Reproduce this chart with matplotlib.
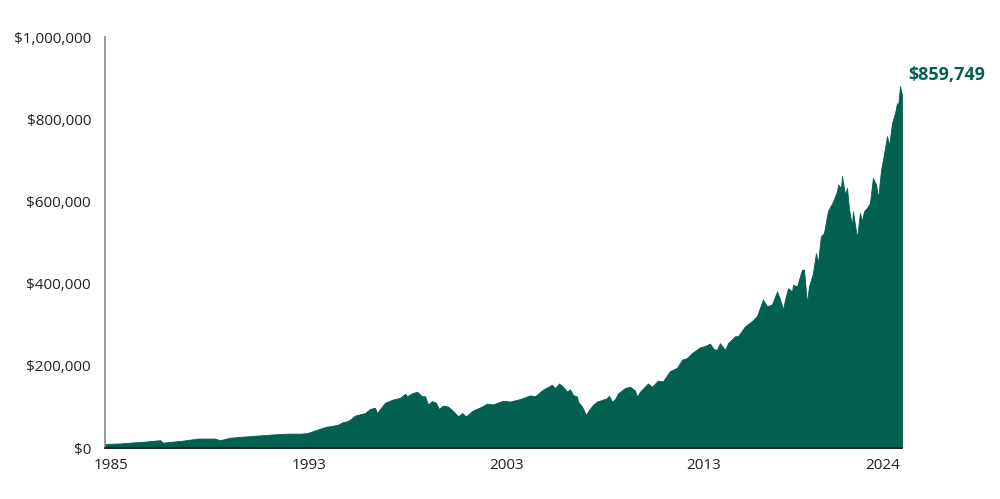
import matplotlib
matplotlib.use("Agg")
import matplotlib.pyplot as plt
from matplotlib.ticker import FuncFormatter

plt.rcParams['font.family'] = ['Open Sans', 'DejaVu Sans']

# Growth of $10,000 (values in $ thousands), dates as decimal years
dates = [
    1985.00, 1985.75, 1986.25, 1987.11, 1987.76, 1987.91, 1988.91, 1989.67,
    1990.52, 1990.77, 1991.27, 1992.28, 1993.43, 1994.13, 1994.79, 1995.14,
    1995.44, 1995.79, 1996.14, 1996.66, 1996.94, 1997.15, 1997.30, 1997.55,
    1998.05, 1998.30, 1998.55, 1998.65, 1999.05, 1999.45, 1999.81, 2000.06,
    2000.16, 2000.41, 2000.66, 2000.91, 2001.06, 2001.21, 2001.41, 2001.61,
    2001.76, 2001.96, 2002.21, 2002.47, 2002.72, 2002.92, 2003.12, 2003.42,
    2003.92, 2004.17, 2004.47, 2004.97, 2005.33, 2005.83, 2006.33, 2006.58,
    2006.98, 2007.43, 2007.58, 2007.79, 2007.99, 2008.19, 2008.34, 2008.49,
    2008.69, 2008.74, 2008.94, 2009.14, 2009.24, 2009.49, 2009.69, 2009.94,
    2010.19, 2010.29, 2010.45, 2010.60, 2010.75, 2011.10, 2011.35, 2011.60,
    2011.70, 2011.85, 2012.25, 2012.45, 2012.75, 2013.00, 2013.35, 2013.71,
    2013.96, 2014.21, 2014.46, 2014.86, 2015.11, 2015.36, 2015.56, 2015.71,
    2015.86, 2016.12, 2016.27, 2016.62, 2016.77, 2017.12, 2017.47, 2017.72,
    2018.02, 2018.22, 2018.47, 2018.73, 2018.88, 2019.03, 2019.13, 2019.28,
    2019.48, 2019.53, 2019.73, 2019.98, 2020.08, 2020.23, 2020.33, 2020.53,
    2020.68, 2020.78, 2020.93, 2021.08, 2021.28, 2021.54, 2021.74, 2021.79,
    2021.94, 2021.99, 2022.14, 2022.24, 2022.34, 2022.49, 2022.54, 2022.74,
    2022.89, 2022.99, 2023.09, 2023.24, 2023.39, 2023.54, 2023.70, 2023.80,
    2023.95, 2024.05, 2024.25, 2024.35, 2024.50, 2024.65, 2024.75, 2024.80,
    2024.90, 2025.00,
]
values_k = [
    10, 11, 13, 16, 19, 13, 18, 23,
    23, 19, 25, 29, 33, 35, 35, 36,
    41, 47, 52, 56, 63, 65, 69, 79,
    85, 95, 98, 85, 110, 118, 122, 132,
    126, 133, 137, 126, 126, 106, 114, 110,
    95, 103, 101, 90, 77, 85, 77, 90,
    101, 108, 106, 115, 113, 119, 128, 126,
    142, 154, 146, 157, 149, 137, 143, 129,
    125, 113, 101, 80, 89, 105, 113, 117,
    121, 127, 113, 119, 133, 146, 149, 140,
    125, 137, 157, 149, 164, 162, 187, 195,
    215, 219, 231, 245, 248, 254, 240, 239,
    255, 239, 255, 272, 272, 296, 309, 321,
    361, 345, 349, 381, 361, 337, 361, 389,
    381, 397, 393, 434, 434, 352, 393, 425,
    474, 450, 515, 523, 576, 600, 625, 641,
    633, 661, 617, 633, 582, 541, 576, 511,
    572, 552, 576, 584, 596, 657, 641, 608,
    678, 702, 759, 736, 791, 815, 839, 831,
    880, 859.749,
]
values = [v * 1000 for v in values_k]

y_ticks = [0, 200000, 400000, 600000, 800000, 1000000]
x_tick_pos = [1985.30, 1995.24, 2005.13, 2015.06, 2024.90]
x_tick_labels = ["1985", "1993", "2003", "2013", "2024"]
end_label = "$859,749"

green = "#02604f"

fig = plt.figure(figsize=(10, 4.99), dpi=100)
ax = fig.add_axes([0.105, 0.1022, 0.797, 0.8236])

ax.fill_between(dates, values, 0, color=green, linewidth=0.6, edgecolor=green)

ax.set_xlim(1985.0, 2025.0)
ax.set_ylim(0, 1000000)
ax.set_yticks(y_ticks)
ax.yaxis.set_major_formatter(FuncFormatter(lambda v, p: "${:,.0f}".format(v)))
ax.set_xticks(x_tick_pos)
ax.set_xticklabels(x_tick_labels)
for lbl in ax.get_xticklabels()[-1:]:
    lbl.set_horizontalalignment('right')

ax.tick_params(axis='y', length=0, pad=10, labelsize=11, labelcolor='#222222')
ax.tick_params(axis='x', length=0, pad=7, labelsize=11, labelcolor='#222222')

for s in ['top', 'right']:
    ax.spines[s].set_visible(False)
ax.spines['left'].set_color('#888888')
ax.spines['left'].set_linewidth(1.2)
ax.spines['bottom'].set_color('#1a1a1a')
ax.spines['bottom'].set_linewidth(1.2)
ax.spines['bottom'].set_zorder(5)

ax.text(1.0075, 0.9075, end_label, transform=ax.transAxes, ha='left', va='center',
        fontsize=13, fontweight='bold', color=green, clip_on=False)

fig.savefig("out.png", dpi=100)
